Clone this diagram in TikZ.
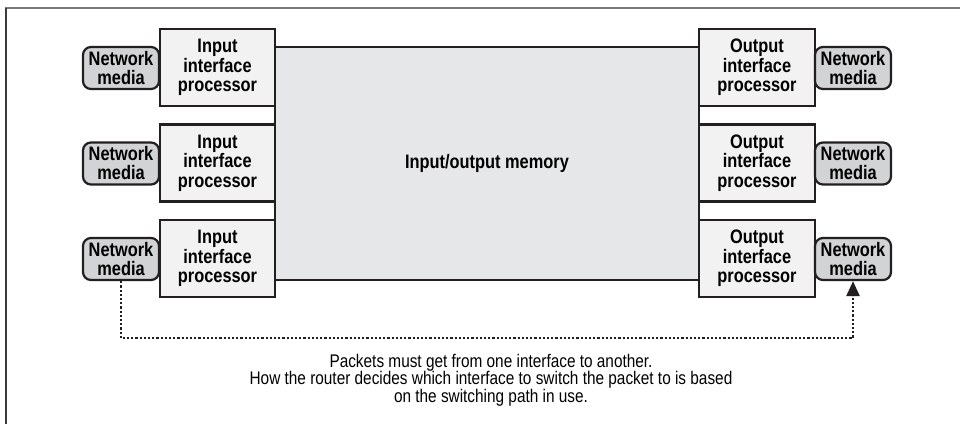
\documentclass[tikz,border=0pt]{standalone}
\usepackage{fontspec}
\setmainfont[FakeStretch=0.84]{Liberation Sans}
\usetikzlibrary{arrows.meta}
\definecolor{linec}{HTML}{231F20}
\definecolor{procfill}{HTML}{F2F2F2}
\definecolor{memfill}{HTML}{E6E7E8}
\definecolor{mediafill}{HTML}{D1D3D4}
\definecolor{frametop}{HTML}{7A7A7A}
\definecolor{frameleft}{HTML}{3C3C3C}
\begin{document}
\begin{tikzpicture}[x=1pt,y=-1pt,
  proc/.style={draw=linec, line width=2.2pt, fill=procfill, minimum width=115pt, minimum height=77pt, inner sep=0pt, align=center, font=\bfseries\fontsize{19.5}{19.5}\selectfont},
  media/.style={draw=linec, line width=2.2pt, fill=mediafill, rounded corners=8pt, minimum width=76pt, minimum height=42pt, inner sep=0pt, align=center, font=\bfseries\fontsize{19.5}{19}\selectfont},
  memory/.style={draw=linec, line width=2.2pt, fill=memfill, minimum width=424pt, minimum height=233pt, inner sep=0pt, font=\bfseries\fontsize{19.5}{19.5}\selectfont},
  dotline/.style={draw=linec, line width=2.4pt, dash pattern=on 2.2pt off 2pt},
  caption/.style={align=center, inner sep=0pt, font=\fontsize{18.3}{17.5}\selectfont}
]
\useasboundingbox (0,0) rectangle (960,424);
\fill[white] (0,0) rectangle (960,424);
\draw[frametop, line width=2pt] (5,8) -- (960,8);
\draw[frameleft, line width=1.6pt] (6,8) -- (6,424);

\node[memory] (mem) at (487,163.5) {Input/output memory};

\node[proc] (in1) at (217.5,67.5) {Input\\interface\\processor};
\node[proc] (in2) at (217.5,163) {Input\\interface\\processor};
\node[proc] (in3) at (217.5,258.5) {Input\\interface\\processor};

\node[proc, minimum width=116pt] (out1) at (757,67.5) {Output\\interface\\processor};
\node[proc, minimum width=116pt] (out2) at (757,163) {Output\\interface\\processor};
\node[proc, minimum width=116pt] (out3) at (757,258.5) {Output\\interface\\processor};

\node[media] (ml1) at (121,68) {Network\\media};
\node[media] (ml2) at (121,163.5) {Network\\media};
\node[media] (ml3) at (121,259) {Network\\media};

\node[media] (mr1) at (853,68) {Network\\media};
\node[media] (mr2) at (853,163.5) {Network\\media};
\node[media] (mr3) at (853,259) {Network\\media};

\draw[dotline, -{Triangle[length=15pt,width=13pt]}] (ml3.south) -- ++(0,57) -| (mr3.south);

\node[caption] (cap) at (491,380) {Packets must get from one interface to another.\\How the router decides which interface to switch the packet to is based\\on the switching path in use.};
\end{tikzpicture}
\end{document}
